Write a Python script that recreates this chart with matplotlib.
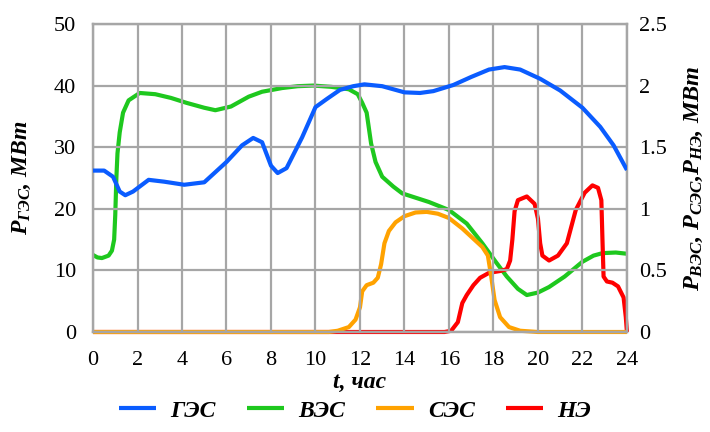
import numpy as np
import matplotlib
matplotlib.use("Agg")
import matplotlib.pyplot as plt

plt.rcParams['font.family'] = ['Liberation Serif', 'DejaVu Serif']
plt.rcParams['mathtext.fontset'] = 'custom'
plt.rcParams['mathtext.rm'] = 'Liberation Serif:bold:italic'
plt.rcParams['mathtext.it'] = 'Liberation Serif:bold:italic'
plt.rcParams['mathtext.bf'] = 'Liberation Serif:bold:italic'

#%% data

# ГЭС, left axis, MW
t_ges = [0, 0.5, 0.9, 1.2, 1.45, 1.8, 2.5, 3.2, 4.1, 5.0, 6.0, 6.7, 7.2, 7.6, 8.0, 8.3,
         8.7, 9.4, 10.0, 10.5, 11.1, 11.7, 12.2, 13.0, 14.0, 14.7, 15.3, 16.2, 17.0, 17.8,
         18.5, 19.2, 20.1, 21.0, 22.0, 22.8, 23.4, 24]
p_ges = [26.2, 26.2, 25.2, 22.8, 22.2, 22.8, 24.7, 24.4, 23.9, 24.3, 27.6, 30.3, 31.5, 30.8,
         27.0, 25.8, 26.6, 31.6, 36.5, 37.8, 39.3, 39.9, 40.2, 39.9, 38.9, 38.8, 39.1, 40.1,
         41.4, 42.6, 43.0, 42.6, 41.1, 39.2, 36.4, 33.3, 30.3, 26.3]

# ВЭС, right axis, MW
t_ves = [0, 0.2, 0.4, 0.7, 0.85, 0.95, 1.0, 1.05, 1.1, 1.2, 1.35, 1.6, 2.1, 2.8, 3.5, 4.2,
         5.0, 5.5, 6.2, 7.0, 7.6, 8.5, 9.2, 9.9, 10.7, 11.5, 11.9, 12.1, 12.3, 12.5, 12.7,
         13.0, 13.5, 13.9, 14.5, 15.1, 16.0, 16.8, 17.5, 18.1, 18.6, 19.1, 19.5, 20.0, 20.5,
         21.2, 22.0, 22.5, 22.9, 23.5, 24]
p_ves = [0.625, 0.605, 0.60, 0.62, 0.66, 0.75, 0.95, 1.25, 1.45, 1.62, 1.78, 1.88, 1.94,
         1.93, 1.90, 1.86, 1.82, 1.80, 1.83, 1.91, 1.95, 1.98, 1.995, 2.0, 1.99, 1.97, 1.93,
         1.86, 1.78, 1.53, 1.38, 1.26, 1.18, 1.125, 1.09, 1.055, 0.99, 0.88, 0.72, 0.57, 0.45,
         0.35, 0.30, 0.32, 0.365, 0.45, 0.57, 0.62, 0.64, 0.645, 0.635]

# СЭС, right axis, MW
t_ses = [0, 10.0, 10.6, 11.0, 11.5, 11.8, 12.0, 12.1, 12.3, 12.6, 12.8, 12.95, 13.1, 13.3,
         13.6, 14.0, 14.5, 15.0, 15.5, 16.0, 16.6, 17.2, 17.5, 17.75, 17.9, 18.05, 18.3,
         18.7, 19.2, 20.0, 24]
p_ses = [0, 0, 0, 0.01, 0.04, 0.1, 0.2, 0.33, 0.38, 0.40, 0.44, 0.55, 0.72, 0.82, 0.89, 0.94,
         0.97, 0.975, 0.96, 0.925, 0.84, 0.74, 0.69, 0.62, 0.45, 0.26, 0.12, 0.04, 0.01, 0, 0]

# НЭ, right axis, MW
t_ne = [0, 15.8, 16.1, 16.4, 16.6, 16.8, 17.1, 17.4, 17.8, 18.3, 18.6, 18.75, 18.85, 18.95,
        19.1, 19.5, 19.85, 20.0, 20.1, 20.2, 20.5, 20.9, 21.3, 21.7, 22.1, 22.45, 22.7,
        22.85, 22.9, 22.95, 23.1, 23.35, 23.6, 23.85, 23.95, 24]
p_ne = [0, 0, 0.01, 0.08, 0.235, 0.3, 0.38, 0.44, 0.48, 0.495, 0.51, 0.58, 0.75, 0.98, 1.07,
        1.1, 1.04, 0.92, 0.72, 0.62, 0.58, 0.62, 0.72, 0.99, 1.13, 1.19, 1.17, 1.07, 0.75,
        0.45, 0.41, 0.40, 0.37, 0.28, 0.12, 0]

x_ticks = list(range(0, 25, 2))
left_ticks = [0, 10, 20, 30, 40, 50]
right_ticks = [0, 0.5, 1, 1.5, 2, 2.5]
right_ticklabels = ['0', '0.5', '1', '1.5', '2', '2.5']

#%% plot

c_ges = '#0a5cff'
c_ves = '#1ec81e'
c_ses = '#ffa200'
c_ne = '#ff0000'
grid_c = '#a6a6a6'
lw = 3.0

fig = plt.figure(figsize=(7.1, 4.32), dpi=100)
ax = fig.add_axes([0.131, 0.2315, 0.752, 0.713])
ax2 = ax.twinx()

l1, = ax.plot(t_ges, p_ges, color=c_ges, lw=lw, label='ГЭС', solid_capstyle='butt', zorder=5)
l2, = ax2.plot(t_ves, p_ves, color=c_ves, lw=lw, label='ВЭС', solid_capstyle='butt', clip_on=False)
l4, = ax2.plot(t_ne, p_ne, color=c_ne, lw=lw, label='НЭ', solid_capstyle='butt', clip_on=False)
l3, = ax2.plot(t_ses, p_ses, color=c_ses, lw=lw, label='СЭС', solid_capstyle='butt', clip_on=False)

ax.set(xlim=[0, 24], ylim=[0, 50])
ax2.set(ylim=[0, 2.5])
ax.set_xticks(x_ticks)
ax.set_yticks(left_ticks)
ax2.set_yticks(right_ticks)
ax2.set_yticklabels(right_ticklabels)

ax.grid(True, color=grid_c, lw=1.6)
ax.set_axisbelow(True)
for a in (ax, ax2):
    for s in a.spines.values():
        s.set_color(grid_c)
        s.set_linewidth(1.6)
ax.tick_params(length=0, labelsize=16, pad=12)
ax.tick_params(axis='x', pad=14)
ax2.tick_params(length=0, labelsize=16, pad=9)

# put the ГЭС line over the twin axes
ax.set_zorder(ax2.get_zorder() + 1)
ax.patch.set_visible(False)

ax.set_xlabel('t, час', fontsize=17, fontweight='bold', style='italic', labelpad=1)
ax.set_ylabel(r'$P_{\mathit{ГЭС}}$, МВт', fontsize=17, fontweight='bold', style='italic', labelpad=15)
ax2.set_ylabel(r'$P_{\mathit{ВЭС}}$, $P_{\mathit{СЭС}}$,$P_{\mathit{НЭ}}$, МВт', fontsize=17.5,
               fontweight='bold', style='italic', rotation=90, labelpad=11)

fig.legend(handles=[l1, l2, l3, l4], loc='lower center', bbox_to_anchor=(0.5, -0.025), ncol=4,
           frameon=False, prop={'size': 17, 'weight': 'bold', 'style': 'italic'},
           handlelength=1.6, columnspacing=1.3, handletextpad=0.6)

plt.savefig('out.png', dpi=100)
plt.close()
